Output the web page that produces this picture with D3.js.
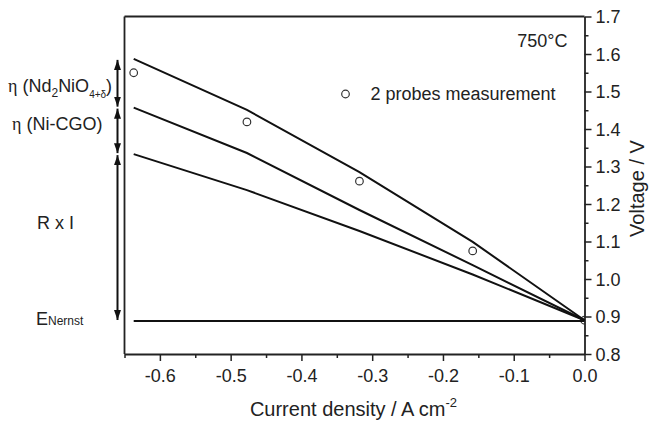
<!DOCTYPE html>
<html>
<head>
<meta charset="utf-8">
<script src="https://cdn.jsdelivr.net/npm/d3@7"></script>
<style>
  html, body { margin: 0; padding: 0; background: #fff; overflow: hidden; }
  svg { display: block; overflow: visible; font-family: "Liberation Sans", Arial, sans-serif; }
</style>
</head>
<body>
<svg id="chart" width="649" height="423"></svg>
<script>
// Data
const currentDensity = [-0.637, -0.477, -0.318, -0.158, 0.0]
const voltageNd = [1.587, 1.451, 1.285, 1.099, 0.89]     // η (Nd2NiO4+δ) level
const voltageNiCgo = [1.457, 1.336, 1.184, 1.037, 0.89]  // η (Ni-CGO) level
const voltageRI = [1.333, 1.237, 1.128, 1.012, 0.89]     // R x I level
const voltageMeasured = [1.550, 1.419, 1.261, 1.075, 0.89]
const eNernst = 0.888
const xTicks = [-0.6, -0.5, -0.4, -0.3, -0.2, -0.1, 0.0]
const yTicks = [0.8, 0.9, 1.0, 1.1, 1.2, 1.3, 1.4, 1.5, 1.6, 1.7]

const width = 649, height = 423
const margin = { top: 16.5, right: 64.5, bottom: 69, left: 124.5 }
const innerWidth = width - margin.left - margin.right
const innerHeight = height - margin.top - margin.bottom

const svg = d3.select("#chart")
const defs = svg.append("defs")
const chart = svg.append("g").attr("transform", `translate(${margin.left},${margin.top})`)

const x = d3.scaleLinear().domain([-0.65, 0]).range([0, innerWidth])
const y = d3.scaleLinear().domain([0.8, 1.7]).range([innerHeight, 0])

const ink = "#111"
const axisColor = "#222"
// plain hyphen instead of unicode minus, like the original
const fmt = d => d3.format(".1f")(d).replace("−", "-")

defs.append("clipPath").attr("id", "plot-clip")
  .append("rect").attr("width", innerWidth).attr("height", innerHeight)

// Measured points (drawn first, clipped at the right axis like the original)
chart.append("g").attr("clip-path", "url(#plot-clip)")
  .selectAll("circle")
  .data(currentDensity.map((c, i) => [c, voltageMeasured[i]]))
  .enter().append("circle")
  .attr("cx", d => x(d[0]))
  .attr("cy", d => y(d[1]))
  .attr("r", 3.8)
  .style("fill", "none")
  .style("stroke", "#333")
  .style("stroke-width", 1.2)

// Minor ticks
chart.append("g")
  .attr("transform", `translate(0,${innerHeight})`)
  .call(d3.axisBottom(x).tickValues(d3.range(-0.65, 0.001, 0.1)).tickSize(4))
  .call(g => g.select(".domain").remove())
  .call(g => g.selectAll("text").remove())
chart.append("g")
  .attr("transform", `translate(${innerWidth},0)`)
  .call(d3.axisRight(y).tickValues(d3.range(0.85, 1.7, 0.1)).tickSize(4))
  .call(g => g.select(".domain").remove())
  .call(g => g.selectAll("text").remove())

// Major axes
const xAxis = chart.append("g")
  .attr("transform", `translate(0,${innerHeight})`)
  .call(d3.axisBottom(x).tickValues(xTicks).tickSize(7).tickSizeOuter(0).tickPadding(8)
    .tickFormat(fmt))
const yAxis = chart.append("g")
  .attr("transform", `translate(${innerWidth},0)`)
  .call(d3.axisRight(y).tickValues(yTicks).tickSize(7).tickSizeOuter(0).tickPadding(4)
    .tickFormat(fmt))

chart.selectAll("g").attr("font-size", 18).attr("font-family", "'Liberation Sans', Arial, sans-serif")
chart.selectAll(".tick line").style("stroke", axisColor).style("stroke-width", 1.5)
chart.selectAll(".domain").style("stroke", axisColor).style("stroke-width", 1.8)
chart.selectAll(".tick text").attr("fill", "#222")
xAxis.selectAll(".tick text").attr("dy", "0.71em")
yAxis.selectAll(".tick text").attr("dy", "0.35em")

// Frame: left and top
chart.append("line").attr("x1", 0).attr("x2", 0).attr("y1", 0).attr("y2", innerHeight)
  .style("stroke", axisColor).style("stroke-width", 1.8)
chart.append("line").attr("x1", 0).attr("x2", innerWidth).attr("y1", 0).attr("y2", 0)
  .style("stroke", axisColor).style("stroke-width", 1.8)

// Lines
const line = d3.line().x(d => x(d[0])).y(d => y(d[1]))
const series = [voltageNd, voltageNiCgo, voltageRI]
series.forEach(vals => {
  chart.append("path")
    .datum(currentDensity.map((c, i) => [c, vals[i]]))
    .attr("d", line)
    .style("fill", "none")
    .style("stroke", ink)
    .style("stroke-width", 2)
})

chart.append("line")
  .attr("x1", x(currentDensity[0])).attr("x2", x(0))
  .attr("y1", y(eNernst)).attr("y2", y(eNernst))
  .style("stroke", ink).style("stroke-width", 2)

// Legend + temperature
chart.append("circle").attr("cx", 221).attr("cy", 77.5).attr("r", 3.8)
  .style("fill", "none").style("stroke", "#333").style("stroke-width", 1.2)
chart.append("text").attr("x", 246).attr("y", 77.5).attr("dy", "0.35em")
  .attr("font-size", 18).attr("fill", "#222").text("2 probes measurement")
chart.append("text").attr("x", 443).attr("y", 24).attr("dy", "0.35em")
  .attr("text-anchor", "end")
  .attr("font-size", 18).attr("fill", "#222").text("750°C")

// Axis titles
svg.append("text")
  .attr("x", margin.left + innerWidth / 2 - 1).attr("y", 416)
  .attr("text-anchor", "middle")
  .attr("font-size", 20).attr("fill", "#222")
  .call(t => {
    t.append("tspan").text("Current density / A cm")
    t.append("tspan").attr("dy", -9).attr("font-size", 13).text("-2")
  })
svg.append("text")
  .attr("transform", `translate(644,${margin.top + 172}) rotate(-90)`)
  .attr("text-anchor", "middle")
  .attr("font-size", 20).attr("fill", "#222")
  .text("Voltage / V")

// Left side arrows between levels
const arrowX = -7
const levels = [voltageNd[0], voltageNiCgo[0], voltageRI[0], eNernst]
defs.append("marker")
  .attr("id", "head")
  .attr("viewBox", "0 0 10 10")
  .attr("preserveAspectRatio", "none")
  .attr("refX", 10).attr("refY", 5)
  .attr("markerWidth", 10).attr("markerHeight", 7)
  .attr("markerUnits", "userSpaceOnUse")
  .attr("orient", "auto-start-reverse")
  .append("path").attr("d", "M0,0 L10,5 L0,10 Z").style("fill", ink)

for (let i = 0; i < levels.length - 1; i++) {
  chart.append("line")
    .attr("x1", arrowX).attr("x2", arrowX)
    .attr("y1", y(levels[i]) + 1).attr("y2", y(levels[i + 1]) - 1)
    .style("stroke", ink).style("stroke-width", 2)
    .attr("marker-start", "url(#head)")
    .attr("marker-end", "url(#head)")
}

// Left side labels
const labels = svg.append("g").attr("fill", "#222").attr("font-size", 18)
labels.append("text").attr("x", 8).attr("y", 92)
  .call(t => {
    t.append("tspan").attr("font-family", "'Liberation Serif', serif").text("η")
    t.append("tspan").text(" (Nd")
    t.append("tspan").attr("dy", 5).attr("font-size", 12).text("2")
    t.append("tspan").attr("dy", -5).text("NiO")
    t.append("tspan").attr("dy", 6).attr("font-size", 10).text("4+δ")
    t.append("tspan").attr("dy", -6).text(")")
  })
labels.append("text").attr("x", 12).attr("y", 130)
  .call(t => {
    t.append("tspan").attr("font-family", "'Liberation Serif', serif").text("η")
    t.append("tspan").text(" (Ni-CGO)")
  })
labels.append("text").attr("x", 37).attr("y", 229).text("R x I")
labels.append("text").attr("x", 36).attr("y", 325)
  .call(t => {
    t.append("tspan").text("E")
    t.append("tspan").attr("font-size", 12).text("Nernst")
  })
</script>
</body>
</html>
